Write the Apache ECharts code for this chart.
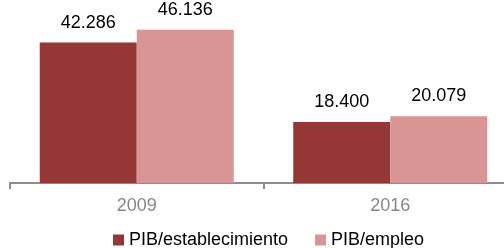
<!DOCTYPE html>
<html>
<head>
<meta charset="utf-8">
<script src="https://cdn.jsdelivr.net/npm/echarts@6/dist/echarts.min.js"></script>
<style>
  html, body { margin: 0; padding: 0; background: #fff; overflow: hidden; }
  /* plot area runs past the right edge of the window, like the original */
  #chart { width: 517px; height: 248px; }
</style>
</head>
<body>
<div id="chart"></div>
<script>
const years = ['2009', '2016']
const pibEstablecimiento = [42286, 18400]
const pibEmpleo = [46136, 20079]
const seriesNames = ['PIB/establecimiento', 'PIB/empleo']

const font = 'Liberation Sans, Arial, sans-serif'

// 42286 -> "42.286"
function fmt(v) {
  return String(v).replace(/\B(?=(\d{3})+(?!\d))/g, '.')
}

const chart = echarts.init(document.getElementById('chart'))

function barSeries(name, data, color) {
  return {
    name: name,
    type: 'bar',
    data: data,
    barWidth: 97,
    barGap: '0%',
    itemStyle: { color: color },
    label: {
      show: true,
      position: 'top',
      distance: 11,
      color: '#000',
      fontSize: 18,
      fontFamily: font,
      formatter: p => fmt(p.value)
    }
  }
}

chart.setOption({
  animation: false,
  backgroundColor: '#fff',
  grid: {
    left: 10,
    right: 0,
    top: 17,
    bottom: 65
  },
  legend: {
    data: seriesNames,
    left: 108,
    top: 226,
    icon: 'rect',
    itemWidth: 11,
    itemHeight: 11,
    itemGap: 27,
    textStyle: {
      fontSize: 18,
      fontFamily: font,
      color: '#000'
    }
  },
  xAxis: {
    type: 'category',
    data: years,
    axisLine: { lineStyle: { color: '#8c8c8c', width: 2 } },
    axisTick: { show: true, length: 6, lineStyle: { color: '#8c8c8c', width: 2 } },
    axisLabel: {
      margin: 14,
      fontSize: 18,
      fontFamily: font,
      color: '#878787'
    }
  },
  yAxis: {
    type: 'value',
    min: 0,
    max: 50000,
    show: false
  },
  series: [
    barSeries(seriesNames[0], pibEstablecimiento, '#953735'),
    barSeries(seriesNames[1], pibEmpleo, '#d99594')
  ]
})
</script>
</body>
</html>
